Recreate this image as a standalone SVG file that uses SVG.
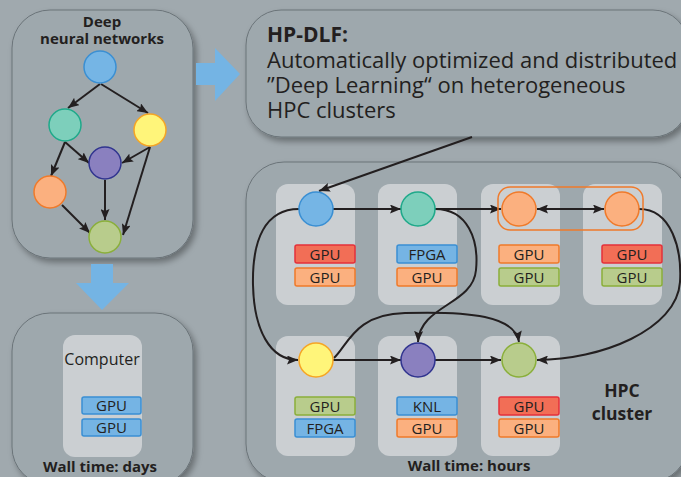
<svg xmlns="http://www.w3.org/2000/svg" width="681" height="477" viewBox="0 0 681 477">
  <defs>
    <filter id="shadow" x="-10%" y="-10%" width="130%" height="130%">
      <feDropShadow dx="3" dy="4" stdDeviation="3" flood-color="#000" flood-opacity="0.35"/>
    </filter>
    <marker id="ah" markerUnits="userSpaceOnUse" markerWidth="12" markerHeight="9" refX="11" refY="4.5" orient="auto-start-reverse">
      <path d="M0,0 L11,4.5 L0,9 L2,4.5 z" fill="#231f20"/>
    </marker>
    <style>
      .panel { fill: #9ea8ad; stroke: #6b7479; stroke-width: 1; filter: url(#shadow); }
      .box { fill: #cbcfd2; }
      .edge { fill: none; stroke: #231f20; stroke-width: 2; marker-end: url(#ah); }
      .t { font-family: "Open Sans", "Liberation Sans", sans-serif; fill: #231f20; }
      .b { font-weight: bold; }
      .lbl { font-family: "Open Sans", "Liberation Sans", sans-serif; font-size: 15px; fill: #231f20; text-anchor: middle; }
      .red { fill: #f26e56; stroke: #e5303a; stroke-width: 1.5; }
      .org { fill: #fbb07f; stroke: #f07a2a; stroke-width: 1.5; }
      .blu { fill: #75b4e4; stroke: #3a8fd3; stroke-width: 1.5; }
      .grn { fill: #b8cc8c; stroke: #8aaf3a; stroke-width: 1.5; }
      .c-blu { fill: #75b5e5; stroke: #3a8fd3; stroke-width: 1.5; }
      .c-teal { fill: #7dcfbb; stroke: #1fa98a; stroke-width: 1.5; }
      .c-yel { fill: #fff57a; stroke: #f6a524; stroke-width: 1.5; }
      .c-pur { fill: #8a80bf; stroke: #30348f; stroke-width: 1.5; }
      .c-org { fill: #fbb07f; stroke: #f07a2a; stroke-width: 1.5; }
      .c-grn { fill: #b8cc8c; stroke: #8aaf3a; stroke-width: 1.5; }
      .arrow { fill: #74b4e4; }
    </style>
  </defs>

  <rect width="681" height="477" fill="#a0a9ae"/>

  <!-- Deep neural networks panel -->
  <g id="dnn-panel">
    <rect class="panel" x="12" y="10" width="181" height="248" rx="38"/>
    <text class="t b" x="102" y="27" font-size="15" text-anchor="middle">Deep</text>
    <text class="t b" x="102" y="44" font-size="15" text-anchor="middle">neural networks</text>
  </g>

  <!-- DNN graph edges -->
  <g id="dnn-edges">
    <line class="edge" x1="100" y1="84" x2="68" y2="108"/>
    <line class="edge" x1="101" y1="84" x2="148" y2="113"/>
    <line class="edge" x1="65" y1="142" x2="51" y2="176"/>
    <line class="edge" x1="65" y1="142" x2="89" y2="163"/>
    <line class="edge" x1="150" y1="147" x2="122" y2="163"/>
    <line class="edge" x1="150" y1="147" x2="123" y2="235"/>
    <line class="edge" x1="105" y1="180" x2="105" y2="220"/>
    <line class="edge" x1="62" y1="205" x2="90" y2="233"/>
  </g>

  <!-- DNN graph nodes -->
  <g id="dnn-nodes">
    <circle id="dnn-n1" class="c-blu" cx="100" cy="67" r="16"/>
    <circle id="dnn-n2" class="c-teal" cx="65" cy="125" r="16"/>
    <circle id="dnn-n3" class="c-yel" cx="150" cy="130" r="16"/>
    <circle id="dnn-n4" class="c-pur" cx="105" cy="163" r="16"/>
    <circle id="dnn-n5" class="c-org" cx="50" cy="192" r="16"/>
    <circle id="dnn-n6" class="c-grn" cx="105" cy="237" r="16"/>
  </g>

  <!-- Block arrows -->
  <g id="block-arrows">
    <path class="arrow" d="M196,63 L215,63 L215,48 L240,74 L215,101 L215,85 L196,85 z"/>
    <path class="arrow" d="M91,264 L113,264 L113,283 L129,283 L102,310 L76,283 L91,283 z"/>
  </g>

  <!-- Single computer panel -->
  <g id="computer-panel">
    <rect class="panel" x="12" y="313" width="181" height="172" rx="38"/>
    <rect class="box" x="63" y="335" width="79" height="122" rx="12"/>
    <text class="t" x="102" y="365" font-size="16" text-anchor="middle">Computer</text>
    <rect class="blu" x="82" y="397" width="59" height="17" rx="2"/>
    <text class="lbl" x="111.5" y="411">GPU</text>
    <rect class="blu" x="82" y="419" width="59" height="17" rx="2"/>
    <text class="lbl" x="111.5" y="433">GPU</text>
    <text class="t b" x="100" y="472" font-size="15" text-anchor="middle">Wall time: days</text>
  </g>

  <!-- HP-DLF description panel -->
  <g id="hpdlf-panel">
    <rect class="panel" x="246" y="10" width="442" height="127" rx="35"/>
    <text class="t b" x="267" y="42" font-size="21">HP-DLF:</text>
    <text class="t" x="267" y="68" font-size="22">Automatically optimized and distributed</text>
    <text class="t" x="267" y="93" font-size="22">”Deep Learning“ on heterogeneous</text>
    <text class="t" x="267" y="118" font-size="22">HPC clusters</text>
  </g>

  <!-- HPC cluster panel -->
  <g id="hpc-panel">
    <rect class="panel" x="246" y="162" width="442" height="320" rx="38"/>
    <text class="t b" x="622" y="397" font-size="17.5" text-anchor="middle">HPC</text>
    <text class="t b" x="622" y="420" font-size="17.5" text-anchor="middle">cluster</text>
    <text class="t b" x="469" y="471" font-size="15" text-anchor="middle">Wall time: hours</text>
  </g>

  <!-- Cluster nodes -->
  <g id="node-1">
    <rect class="box" x="276" y="184" width="79" height="121" rx="12"/>
    <rect class="red" x="295" y="245" width="60" height="18" rx="2"/>
    <text class="lbl" x="325" y="259.5">GPU</text>
    <rect class="org" x="295" y="268" width="60" height="18" rx="2"/>
    <text class="lbl" x="325" y="282.5">GPU</text>
  </g>
  <g id="node-2">
    <rect class="box" x="378" y="184" width="79" height="121" rx="12"/>
    <rect class="blu" x="397" y="245" width="60" height="18" rx="2"/>
    <text class="lbl" x="427" y="259.5">FPGA</text>
    <rect class="org" x="397" y="268" width="60" height="18" rx="2"/>
    <text class="lbl" x="427" y="282.5">GPU</text>
  </g>
  <g id="node-3">
    <rect class="box" x="481" y="184" width="79" height="121" rx="12"/>
    <rect class="org" x="499" y="245" width="60" height="18" rx="2"/>
    <text class="lbl" x="529" y="259.5">GPU</text>
    <rect class="grn" x="499" y="268" width="60" height="18" rx="2"/>
    <text class="lbl" x="529" y="282.5">GPU</text>
  </g>
  <g id="node-4">
    <rect class="box" x="583" y="184" width="79" height="121" rx="12"/>
    <rect class="red" x="602" y="245" width="60" height="18" rx="2"/>
    <text class="lbl" x="632" y="259.5">GPU</text>
    <rect class="grn" x="602" y="268" width="60" height="18" rx="2"/>
    <text class="lbl" x="632" y="282.5">GPU</text>
  </g>
  <g id="node-5">
    <rect class="box" x="276" y="336" width="79" height="120" rx="12"/>
    <rect class="grn" x="295" y="397" width="60" height="18" rx="2"/>
    <text class="lbl" x="325" y="411.5">GPU</text>
    <rect class="blu" x="295" y="419" width="60" height="18" rx="2"/>
    <text class="lbl" x="325" y="433.5">FPGA</text>
  </g>
  <g id="node-6">
    <rect class="box" x="378" y="336" width="79" height="120" rx="12"/>
    <rect class="blu" x="397" y="397" width="60" height="18" rx="2"/>
    <text class="lbl" x="427" y="411.5">KNL</text>
    <rect class="org" x="397" y="419" width="60" height="18" rx="2"/>
    <text class="lbl" x="427" y="433.5">GPU</text>
  </g>
  <g id="node-7">
    <rect class="box" x="481" y="336" width="79" height="120" rx="12"/>
    <rect class="red" x="499" y="397" width="60" height="18" rx="2"/>
    <text class="lbl" x="529" y="411.5">GPU</text>
    <rect class="org" x="499" y="419" width="60" height="18" rx="2"/>
    <text class="lbl" x="529" y="433.5">GPU</text>
  </g>

  <!-- Connectors of the distributed layers -->
  <g id="connectors">
    <line class="edge" x1="472" y1="137" x2="319" y2="191"/>
    <line class="edge" x1="333" y1="209" x2="401" y2="209"/>
    <line class="edge" x1="435" y1="209" x2="501" y2="209"/>
    <line class="edge" x1="537" y1="209" x2="604" y2="209" marker-start="url(#ah)"/>
    <path class="edge" d="M435,209 C468,209 479,240 476,270 C473,305 420,305 418,342"/>
    <path class="edge" d="M299,209 C265,209 252,240 253,285 C254,330 270,360 298,360"/>
    <line class="edge" x1="333" y1="360" x2="401" y2="360"/>
    <line class="edge" x1="435" y1="360" x2="501" y2="360"/>
    <path class="edge" d="M334,358 C348,345 355,314 405,313 C470,311 515,316 519,342"/>
    <path class="edge" d="M639,209 C672,209 682,250 680,282 C677,330 600,360 537,360"/>
  </g>

  <!-- Layer placement on cluster nodes -->
  <g id="layers">
    <rect fill="none" stroke="#f07a2a" stroke-width="1.5" x="498" y="187" width="145" height="43" rx="12"/>
    <circle id="layer-1" class="c-blu" cx="316" cy="209" r="17"/>
    <circle id="layer-2" class="c-teal" cx="418" cy="209" r="17"/>
    <circle id="layer-3a" class="c-org" cx="519" cy="209" r="17"/>
    <circle id="layer-3b" class="c-org" cx="622" cy="209" r="17"/>
    <circle id="layer-4" class="c-yel" cx="316" cy="360" r="17"/>
    <circle id="layer-5" class="c-pur" cx="418" cy="360" r="17"/>
    <circle id="layer-6" class="c-grn" cx="519" cy="360" r="17"/>
  </g>
</svg>
